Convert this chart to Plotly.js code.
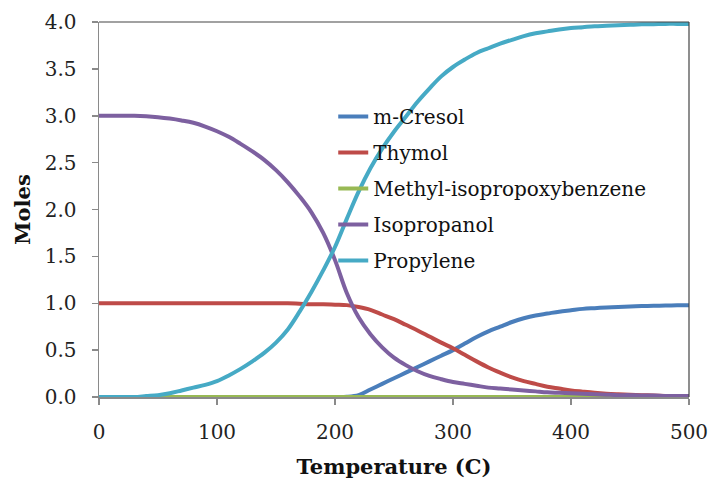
<!DOCTYPE html>
<html>
<head>
<meta charset="utf-8">
<script src="https://cdn.plot.ly/plotly-3.0.1.min.js"></script>
<style>html,body{margin:0;padding:0;background:#fff;}#chart{width:710px;height:483px;}</style>
</head>
<body>
<div id="chart"></div>
<script>
const temperature = [0,10,20,30,40,50,60,70,80,90,100,110,120,130,140,150,160,170,180,190,200,210,220,230,240,250,260,270,280,290,300,310,320,330,340,350,360,370,380,390,400,410,420,430,440,450,460,470,480,490,500];
const mCresol = [0,0,0,0,0,0,0,0,0,0,0,0,0,0,0,0,0,0,0,0,0,0.002,0.02,0.08,0.14,0.20,0.26,0.32,0.38,0.44,0.50,0.57,0.64,0.70,0.75,0.80,0.84,0.87,0.89,0.91,0.925,0.94,0.948,0.955,0.96,0.965,0.97,0.973,0.976,0.978,0.98];
const thymol = [1,1,1,1,1,1,1,1,1,1,1,1,1,1,1,1,1,0.995,0.99,0.99,0.985,0.98,0.96,0.93,0.88,0.83,0.77,0.71,0.645,0.58,0.52,0.45,0.38,0.315,0.26,0.21,0.17,0.14,0.11,0.09,0.07,0.057,0.045,0.036,0.03,0.025,0.02,0.015,0.012,0.01,0.01];
const methylIso = [0,0,0,0,0,0,0,0,0,0,0,0,0,0,0,0,0,0,0,0,0,0,0,0,0,0,0,0,0,0,0,0,0,0,0,0,0,0,0,0,0,0,0,0,0,0,0,0,0,0,0];
const isopropanol = [3,3,3,3,2.995,2.985,2.97,2.95,2.925,2.885,2.835,2.775,2.70,2.62,2.53,2.42,2.29,2.14,1.97,1.75,1.46,1.11,0.85,0.67,0.53,0.42,0.34,0.275,0.225,0.19,0.16,0.14,0.12,0.10,0.09,0.08,0.07,0.06,0.05,0.045,0.04,0.035,0.03,0.025,0.02,0.02,0.015,0.015,0.01,0.01,0.01];
const propylene = [0,0,0,0,0.01,0.02,0.04,0.07,0.10,0.13,0.17,0.23,0.30,0.38,0.47,0.58,0.72,0.91,1.12,1.35,1.60,1.90,2.19,2.44,2.65,2.83,2.99,3.15,3.29,3.42,3.52,3.60,3.67,3.72,3.77,3.81,3.85,3.88,3.90,3.92,3.935,3.945,3.955,3.96,3.965,3.97,3.975,3.977,3.98,3.98,3.98];

const names = ['m-Cresol','Thymol','Methyl-isopropoxybenzene','Isopropanol','Propylene'];
const series = [mCresol, thymol, methylIso, isopropanol, propylene];
const colors = ['#4A7EBB','#BE4B48','#98B954','#7D60A0','#46AAC5'];

const traces = series.map((ys, i) => ({
  x: temperature, y: ys, name: names[i], type: 'scatter', mode: 'lines',
  line: {color: colors[i], width: 4, shape: 'spline', smoothing: 1},
  legendgroup: 'g' + i
}));

const serif = 'DejaVu Serif';
const layout = {
  width: 710, height: 483,
  margin: {l: 99, r: 21, t: 22, b: 86},
  paper_bgcolor: '#fff', plot_bgcolor: '#fff',
  font: {family: serif, size: 20, color: '#222'},
  showlegend: true,
  legend: {x: 0.397, xanchor: 'left', y: 0.80, yanchor: 'top', bgcolor: 'rgba(0,0,0,0)',
           font: {family: serif, size: 20, color: '#111'}, tracegroupgap: 7, traceorder: 'grouped'},
  xaxis: {range: [0, 500], tickvals: [0,100,200,300,400,500], ticktext: ['0','100','200','300','400','500'],
          showgrid: false, zeroline: false, showline: true, linecolor: '#8a8a8a', linewidth: 1.5,
          ticks: 'outside', ticklen: 6, tickcolor: '#8a8a8a', tickwidth: 1.5, ticklabelstandoff: 10,
          tickfont: {family: serif, size: 20, color: '#222'},
          title: {text: '<b>Temperature (C)</b>', font: {family: serif, size: 21, color: '#111'}, standoff: 17}},
  yaxis: {range: [0, 4], tickvals: [0,0.5,1,1.5,2,2.5,3,3.5,4],
          ticktext: ['0.0','0.5','1.0','1.5','2.0','2.5','3.0','3.5','4.0'],
          showgrid: false, zeroline: false, showline: true, linecolor: '#8a8a8a', linewidth: 1.5,
          ticks: 'outside', ticklen: 6, tickcolor: '#8a8a8a', tickwidth: 1.5, ticklabelstandoff: 11,
          tickfont: {family: serif, size: 20, color: '#222'},
          title: {text: '<b>Moles</b>', font: {family: serif, size: 21, color: '#111'}, standoff: 8}},
  shapes: [
    {type: 'line', xref: 'paper', yref: 'paper', x0: 0, x1: 1, y0: 1, y1: 1, line: {color: '#444', width: 1.2}},
    {type: 'line', xref: 'paper', yref: 'paper', x0: 1, x1: 1, y0: 0, y1: 1, line: {color: '#444', width: 1.2}}
  ]
};
Plotly.newPlot('chart', traces, layout, {displayModeBar: false, staticPlot: true});
</script>
</body>
</html>
